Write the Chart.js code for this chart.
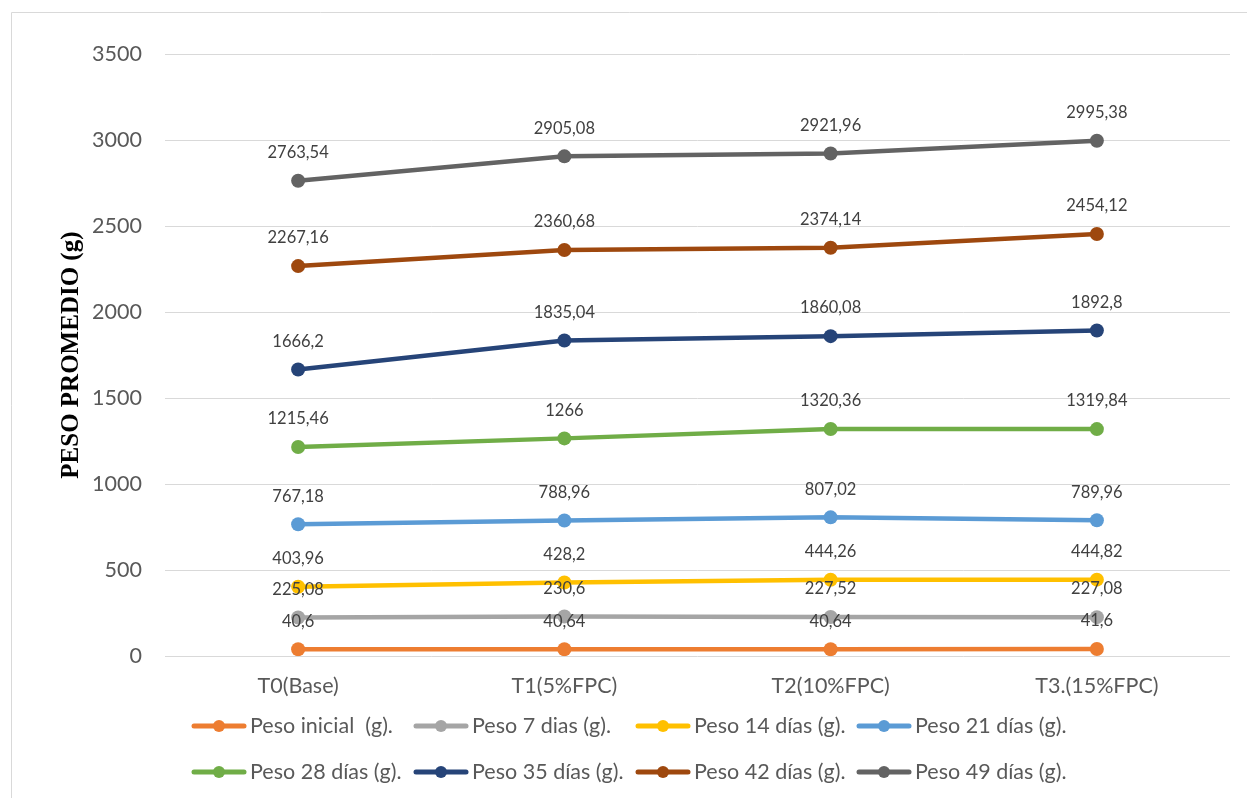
<!DOCTYPE html>
<html>
<head>
<meta charset="utf-8">
<script src="https://cdn.jsdelivr.net/npm/chart.js@4.4.0/dist/chart.umd.min.js"></script>
<style>
  html, body { margin: 0; padding: 0; background: #fff; }
  #caja { position: relative; width: 1247px; height: 798px; }
</style>
</head>
<body>
<div id="caja"><canvas id="grafico_peso"></canvas></div>
<script>
// tratamientos (eje x)
const tratamientos = ["T0(Base)", "T1(5%FPC)", "T2(10%FPC)", "T3.(15%FPC)"];

// pesos promedio por semana (g)
const peso_inicial = [40.6, 40.64, 40.64, 41.6];
const peso_7 = [225.08, 230.6, 227.52, 227.08];
const peso_14 = [403.96, 428.2, 444.26, 444.82];
const peso_21 = [767.18, 788.96, 807.02, 789.96];
const peso_28 = [1215.46, 1266, 1320.36, 1319.84];
const peso_35 = [1666.2, 1835.04, 1860.08, 1892.8];
const peso_42 = [2267.16, 2360.68, 2374.14, 2454.12];
const peso_49 = [2763.54, 2905.08, 2921.96, 2995.38];

const nombres = [
    "Peso inicial  (g).", "Peso 7 dias (g).", "Peso 14 días (g).", "Peso 21 días (g).",
    "Peso 28 días (g).", "Peso 35 días (g).", "Peso 42 días (g).", "Peso 49 días (g).",
];
const cores = ["#ED7D31", "#A5A5A5", "#FFC000", "#5B9BD5", "#70AD47", "#264478", "#9E480E", "#636363"];
const series = [peso_inicial, peso_7, peso_14, peso_21, peso_28, peso_35, peso_42, peso_49];

const ticks_y = [0, 500, 1000, 1500, 2000, 2500, 3000, 3500];

const fuente = "Lato, 'Open Sans', sans-serif";

// etiquetas de valor encima de cada punto
const etiquetas = {
    id: "etiquetas",
    afterDatasetsDraw(chart) {
        const ctx = chart.ctx;
        ctx.save();
        ctx.font = "16.5px " + fuente;
        ctx.fillStyle = "#404040";
        ctx.textAlign = "center";
        ctx.textBaseline = "middle";
        chart.data.datasets.forEach((ds, i) => {
            const meta = chart.getDatasetMeta(i);
            meta.data.forEach((pt, j) => {
                const txt = String(ds.data[j]).replace(".", ",");
                ctx.fillText(txt, pt.x, pt.y - 28);
            });
        });
        ctx.restore();
    },
};

// leyenda propia (línea con punto) + marco
const leyenda = {
    id: "leyenda",
    beforeDraw(chart) {
        const ctx = chart.ctx;
        ctx.save();
        ctx.strokeStyle = "#d9d9d9";
        ctx.lineWidth = 1;
        ctx.beginPath();
        ctx.moveTo(11.5, 800);
        ctx.lineTo(11.5, 12.5);
        ctx.lineTo(1247, 12.5);
        ctx.stroke();
        ctx.restore();
    },
    afterDraw(chart) {
        const ctx = chart.ctx;
        ctx.save();
        ctx.font = "21.5px " + fuente;
        ctx.textBaseline = "middle";
        const filas = [[0, 1, 2, 3], [4, 5, 6, 7]];
        const columnas = [191, 413, 635, 856];
        const ys = [726, 772];
        const simbolo = 56, hueco = 3;
        filas.forEach((fila, f) => {
            fila.forEach((i, k) => {
                const x = columnas[k];
                const y = ys[f];
                ctx.strokeStyle = cores[i];
                ctx.lineWidth = 5;
                ctx.lineCap = "round";
                ctx.beginPath();
                ctx.moveTo(x + 3, y);
                ctx.lineTo(x + simbolo - 3, y);
                ctx.stroke();
                ctx.fillStyle = cores[i];
                ctx.beginPath();
                ctx.arc(x + simbolo / 2, y, 6, 0, Math.PI * 2);
                ctx.fill();
                ctx.fillStyle = "#595959";
                ctx.textAlign = "left";
                ctx.fillText(nombres[i], x + simbolo + hueco, y);
            });
        });
        ctx.restore();
    },
};

new Chart("grafico_peso", {
    type: "line",
    data: {
        labels: tratamientos,
        datasets: series.map((s, i) => ({
            label: nombres[i],
            data: s,
            borderColor: cores[i],
            backgroundColor: cores[i],
            borderWidth: 4.5,
            pointRadius: 7,
            pointHoverRadius: 7,
            pointBorderWidth: 0,
            tension: 0,
        })),
    },
    options: {
        responsive: true,
        maintainAspectRatio: false,
        animation: false,
        layout: {
            padding: { left: 57, right: 17, top: 54, bottom: 82 },
        },
        plugins: {
            legend: { display: false },
            tooltip: { enabled: false },
        },
        scales: {
            x: {
                offset: true,
                grid: { display: false, drawTicks: false },
                border: { display: false },
                ticks: {
                    color: "#595959",
                    font: { family: fuente, size: 21.5 },
                    padding: 17,
                },
            },
            y: {
                min: 0,
                max: 3500,
                afterBuildTicks: (scale) => {
                    scale.ticks = ticks_y.map((v) => ({ value: v }));
                },
                afterFit: (scale) => {
                    scale.width = 108;
                },
                grid: { color: "#d9d9d9", lineWidth: 1, drawTicks: false },
                border: { display: false },
                ticks: {
                    color: "#595959",
                    font: { family: fuente, size: 21.5 },
                    padding: 23,
                    callback: (v) => String(v),
                },
                title: {
                    display: true,
                    text: "PESO PROMEDIO (g)",
                    color: "#000",
                    font: { family: "'Liberation Serif', 'Times New Roman', serif", size: 25, weight: "bold" },
                    padding: 0,
                },
            },
        },
    },
    plugins: [etiquetas, leyenda],
});
</script>
</body>
</html>
